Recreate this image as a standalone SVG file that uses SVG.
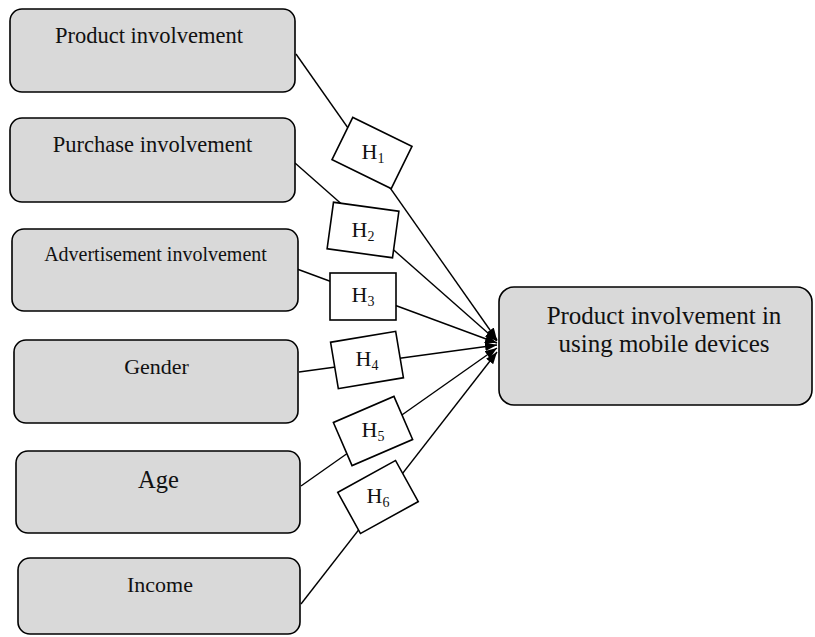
<svg xmlns="http://www.w3.org/2000/svg" width="815" height="637" viewBox="0 0 815 637">
<defs>
<style>
.node rect{fill:#d9d9d9;stroke:#000;stroke-width:1.6}
.node text{font-family:"Liberation Serif","Times New Roman",serif;fill:#111;text-anchor:middle}
.edge line{stroke:#000;stroke-width:1.4;marker-end:url(#arr)}
.lbl rect{fill:#fff;stroke:#000;stroke-width:1.6}
.lbl text{font-family:"Liberation Serif","Times New Roman",serif;font-size:22px;fill:#111;text-anchor:middle}
.lbl tspan{font-size:14px}
</style>
<marker id="arr" markerUnits="userSpaceOnUse" markerWidth="13" markerHeight="10" refX="12" refY="4.5" orient="auto">
<path d="M0,0 L12,4.5 L0,9 z" fill="#000"/>
</marker>
</defs>
<rect width="815" height="637" fill="#fff"/>
<g id="connectors">
<g class="edge">
<line x1="296" y1="54" x2="497" y2="340"/>
<line x1="295" y1="163" x2="497" y2="341"/>
<line x1="297" y1="269" x2="497" y2="343"/>
<line x1="299" y1="372" x2="497" y2="345"/>
<line x1="301" y1="486" x2="497" y2="348"/>
<line x1="301" y1="604" x2="497" y2="352"/>
</g>
<g class="lbl" id="h1"><rect x="-33" y="-23.5" width="66" height="47" transform="translate(372 153) rotate(26.2)"/><text x="373" y="159">H<tspan dy="4">1</tspan></text></g>
<g class="lbl" id="h2"><rect x="-33" y="-23.5" width="66" height="47" transform="translate(363 230) rotate(7.8)"/><text x="363" y="237">H<tspan dy="4">2</tspan></text></g>
<g class="lbl" id="h3"><rect x="-33" y="-23.5" width="66" height="47" transform="translate(363 296.5)"/><text x="363" y="302">H<tspan dy="4">3</tspan></text></g>
<g class="lbl" id="h4"><rect x="-33" y="-23.5" width="66" height="47" transform="translate(367 360) rotate(-9.5)"/><text x="367" y="366">H<tspan dy="4">4</tspan></text></g>
<g class="lbl" id="h5"><rect x="-33" y="-23.5" width="66" height="47" transform="translate(373 431) rotate(-23.4)"/><text x="373" y="437">H<tspan dy="4">5</tspan></text></g>
<g class="lbl" id="h6"><rect x="-33" y="-23.5" width="66" height="47" transform="translate(378 497) rotate(-28.9)"/><text x="378" y="503">H<tspan dy="4">6</tspan></text></g>
</g>
<g id="n1" class="node"><rect x="10" y="9" width="285" height="83" rx="12"/><text x="149" y="43" font-size="22.5">Product involvement</text></g>
<g id="n2" class="node"><rect x="10" y="118" width="285" height="84" rx="12"/><text x="152.5" y="152" font-size="22.5">Purchase involvement</text></g>
<g id="n3" class="node"><rect x="12" y="229" width="286" height="82" rx="12"/><text x="155.5" y="261" font-size="20">Advertisement involvement</text></g>
<g id="n4" class="node"><rect x="14" y="340" width="284" height="83" rx="12"/><text x="156.5" y="374" font-size="22">Gender</text></g>
<g id="n5" class="node"><rect x="16" y="451" width="284" height="82" rx="12"/><text x="158.5" y="488" font-size="24.5">Age</text></g>
<g id="n6" class="node"><rect x="18" y="558" width="282" height="76" rx="12"/><text x="160" y="592" font-size="22">Income</text></g>
<g id="target" class="node"><rect x="499" y="287" width="313" height="118" rx="15"/><text x="664" y="324" font-size="25">Product involvement in</text><text x="664" y="352" font-size="25">using mobile devices</text></g>
</svg>
